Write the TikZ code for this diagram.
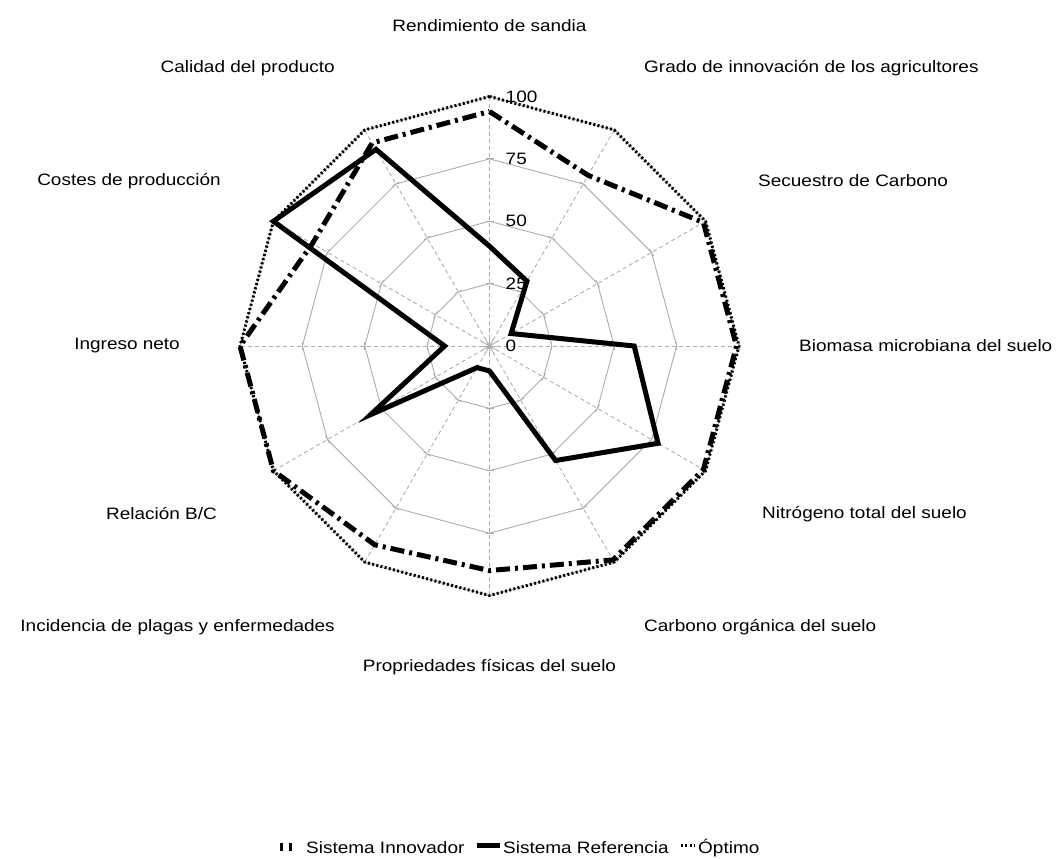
\documentclass[tikz,border=0pt]{standalone}
\usepackage{fontspec}
\setmainfont{Liberation Sans}[FakeStretch=1.15]
\usetikzlibrary{calc}
\begin{document}
\begin{tikzpicture}[x=1pt,y=-1pt,
  gridring/.style={draw=black!32, line width=0.9pt},
  axisline/.style={draw=black!32, line width=0.9pt, dash pattern=on 4pt off 3pt},
  tickline/.style={draw=black!32, line width=0.8pt},
  lbl/.style={font=\fontsize{16.5}{18}\selectfont, inner sep=0pt},
  optline/.style={line width=3pt, dash pattern=on 2pt off 2.3pt, line join=miter},
  innoline/.style={line width=5pt, dash pattern=on 14pt off 5pt on 3pt off 5pt, line join=miter},
  refline/.style={line width=5pt, line join=miter},
]
\useasboundingbox (0,0) rectangle (1058,859);
\def\cx{489.5}\def\cy{346}\def\u{2.495}
\coordinate (c) at (\cx,\cy);
% grid vertices
\foreach \r in {25,50,75,100}{
  \foreach \i in {0,...,11}{
    \coordinate (g\r-\i) at ({\cx+\u*\r*sin(30*\i)},{\cy-\u*\r*cos(30*\i)});
  }
}
% rings
\foreach \r in {25,50,75,100}{
  \draw[gridring] (g\r-0) -- (g\r-1) -- (g\r-2) -- (g\r-3) -- (g\r-4) -- (g\r-5) -- (g\r-6) -- (g\r-7) -- (g\r-8) -- (g\r-9) -- (g\r-10) -- (g\r-11) -- cycle;
}
% axes
\foreach \i in {0,...,11}{
  \draw[axisline] (c) -- (g100-\i);
  \draw[tickline] (c) -- ($(c)!8pt!(g100-\i)$);
  \foreach \r in {25,50,75,100}{
    \draw[tickline] ($(g\r-\i)!4pt!90:(c)$) -- ($(g\r-\i)!4pt!-90:(c)$);
  }
}
% value labels
\foreach \v/\r in {0/0,25/25,50/50,75/75,100/100}{
  \node[lbl, anchor=west] (v\v) at ({\cx+16},{\cy-\u*\r}) {\v};
}
% series
\foreach \i/\v in {0/100,1/100,2/100,3/100,4/100,5/100,6/100,7/100,8/100,9/100,10/100,11/100}{
  \coordinate (o\i) at ({\cx+\u*\v*sin(30*\i)},{\cy-\u*\v*cos(30*\i)});
}
\foreach \i/\v in {0/94,1/79,2/99,3/99,4/99,5/99,6/90,7/92,8/100,9/100,10/82,11/94}{
  \coordinate (n\i) at ({\cx+\u*\v*sin(30*\i)},{\cy-\u*\v*cos(30*\i)});
}
\foreach \i/\v in {0/40,1/30,2/10,3/58,4/78,5/53,6/10,7/10,8/55,9/18,10/100,11/91}{
  \coordinate (s\i) at ({\cx+\u*\v*sin(30*\i)},{\cy-\u*\v*cos(30*\i)});
}
\draw[optline] (o0) -- (o1) -- (o2) -- (o3) -- (o4) -- (o5) -- (o6) -- (o7) -- (o8) -- (o9) -- (o10) -- (o11) -- cycle;
\draw[innoline] (n0) -- (n1) -- (n2) -- (n3) -- (n4) -- (n5) -- (n6) -- (n7) -- (n8) -- (n9) -- (n10) -- (n11) -- cycle;
\draw[refline] (s0) -- (s1) -- (s2) -- (s3) -- (s4) -- (s5) -- (s6) -- (s7) -- (s8) -- (s9) -- (s10) -- (s11) -- cycle;
% category labels
\node[lbl] (l0) at (489.5,26) {Rendimiento de sandia};
\node[lbl, anchor=west] (l1) at (644,68) {Grado de innovación de los agricultores};
\node[lbl, anchor=west] (l2) at (758,181) {Secuestro de Carbono};
\node[lbl, anchor=west] (l3) at (799,346) {Biomasa microbiana del suelo};
\node[lbl, anchor=west] (l4) at (762,514) {Nitrógeno total del suelo};
\node[lbl, anchor=west] (l5) at (644,627) {Carbono orgánica del suelo};
\node[lbl] (l6) at (489.5,667) {Propriedades físicas del suelo};
\node[lbl, anchor=east] (l7) at (335,627) {Incidencia de plagas y enfermedades};
\node[lbl, anchor=east] (l8) at (217,514) {Relación B/C};
\node[lbl, anchor=east] (l9) at (180,346) {Ingreso neto};
\node[lbl, anchor=east] (l10) at (221,181) {Costes de producción};
\node[lbl, anchor=east] (l11) at (335,68) {Calidad del producto};
% legend
\fill (280,843) rectangle (283,851);
\fill (289,843) rectangle (292,851);
\node[lbl, anchor=west] (k1) at (306,848) {Sistema Innovador};
\coordinate (k2a) at (477,845.5);
\coordinate (k2b) at (500,845.5);
\draw[refline, line cap=butt] (k2a) -- (k2b);
\node[lbl, anchor=west] (k2) at (503,848) {Sistema Referencia};
\coordinate (k3a) at (681,845.5);
\coordinate (k3b) at (694,845.5);
\draw[optline] (k3a) -- (k3b);
\node[lbl, anchor=west] (k3) at (698,848) {Óptimo};
\end{tikzpicture}
\end{document}
